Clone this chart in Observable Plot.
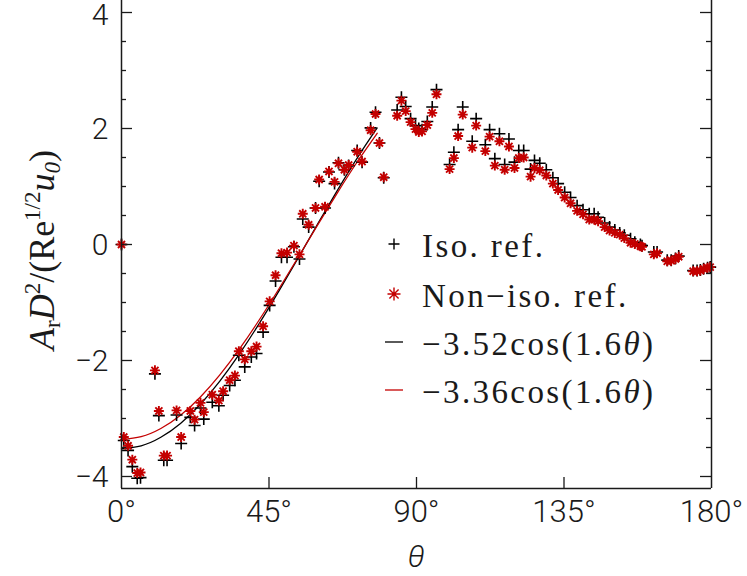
<!DOCTYPE html>
<html><head><meta charset="utf-8">
<script src="https://cdn.jsdelivr.net/npm/d3@7"></script>
<script src="https://cdn.jsdelivr.net/npm/@observablehq/plot@0.6"></script>
<style>
body{margin:0;background:#fff;}
</style></head><body><div id="chart"></div>
<script>
// ---- data ----
const theta = [0, 0.7, 2.0, 3.3, 4.8, 5.8, 10.2, 11.4, 12.9, 13.9,
  16.8, 18.2, 21.0, 22.3, 24.1, 25.1, 27.7, 29.7, 31.0, 33.0,
  34.6, 35.8, 37.6, 39.6, 41.2, 43.2, 45.2, 47.0, 48.8, 50.5,
  52.6, 54.3, 55.3, 57.1, 59.2, 60.3, 62.1, 63.3, 65.0, 66.2,
  68.0, 69.3, 71.9, 73.4, 76.0, 77.5, 78.7, 80.0, 84.1, 85.4,
  86.7, 88.2, 89.7, 90.7, 91.7, 93.3, 94.8, 96.1, 100.1, 101.4,
  102.7, 104.1, 107.0, 108.2, 111.0, 112.3, 113.9, 115.3, 116.9, 118.2,
  119.9, 121.2, 122.7, 124.8, 126.0, 127.6, 129.6, 131.6, 133.2, 135.2,
  137.0, 139.0, 140.8, 142.7, 144.2, 145.4, 147.4, 148.9, 150.5, 152.0,
  153.4, 155.3, 156.6, 158.3, 158.8, 162.4, 163.4, 166.5, 167.7, 169.0,
  170.0, 174.4, 175.6, 176.6, 177.6, 178.8, 179.6];
const nonIsoRef = [0, -3.32, -3.47, -3.71, -3.94, -3.93, -2.17, -2.87, -3.64, -3.64,
  -2.86, -3.32, -2.87, -3.02, -2.73, -2.89, -2.59, -2.69, -2.53, -2.34,
  -2.26, -1.84, -1.98, -1.84, -1.76, -1.41, -0.98, -0.53, -0.15, -0.14,
  -0.02, -0.17, 0.53, 0.34, 0.63, 1.12, 0.65, 1.26, 1.08, 1.40,
  1.29, 1.37, 1.60, 1.43, 1.97, 2.25, 1.75, 1.16, 2.22, 2.48,
  2.30, 2.11, 1.99, 1.94, 1.95, 2.06, 2.27, 2.59, 1.30, 1.49,
  1.87, 2.24, 1.67, 2.05, 1.61, 1.86, 1.36, 1.78, 1.29, 1.69,
  1.32, 1.49, 1.50, 1.17, 1.32, 1.28, 1.19, 1.05, 0.94, 0.81,
  0.71, 0.58, 0.52, 0.43, 0.43, 0.40, 0.30, 0.24, 0.20, 0.17,
  0.11, 0.03, 0.01, -0.03, -0.04, -0.17, -0.15, -0.29, -0.28, -0.25,
  -0.21, -0.46, -0.46, -0.45, -0.42, -0.40, -0.39];
const isoRef = [0, -3.38, -3.55, -3.83, -4.03, -4.02, -2.23, -2.95, -3.72, -3.72,
  -2.94, -3.43, -2.98, -3.12, -2.82, -3.01, -2.72, -2.78, -2.60, -2.43,
  -2.34, -1.91, -2.11, -1.94, -1.88, -1.51, -1.05, -0.63, -0.22, -0.22,
  -0.04, -0.25, 0.44, 0.30, 0.63, 1.09, 0.63, 1.25, 1.05, 1.41,
  1.29, 1.36, 1.62, 1.42, 2.01, 2.28, 1.75, 1.15, 2.32, 2.54,
  2.38, 2.17, 2.05, 2.00, 1.98, 2.12, 2.37, 2.67, 1.38, 1.59,
  1.98, 2.37, 1.78, 2.17, 1.72, 1.98, 1.48, 1.91, 1.38, 1.82,
  1.42, 1.62, 1.62, 1.30, 1.45, 1.40, 1.29, 1.15, 1.05, 0.90,
  0.81, 0.67, 0.60, 0.53, 0.53, 0.47, 0.37, 0.30, 0.25, 0.20,
  0.16, 0.10, 0.04, 0.00, -0.02, -0.13, -0.13, -0.27, -0.27, -0.24,
  -0.20, -0.45, -0.45, -0.44, -0.42, -0.40, -0.39];
// fitted curves, sampled as drawn
const fitTheta = [0, 6, 12, 18, 24, 30, 36, 42, 48, 54, 60, 66, 72, 78];
const fitIso = [-3.520, -3.471, -3.324, -3.085, -2.759, -2.355, -1.886, -1.364, -0.804, -0.221, 0.368, 0.947, 1.499, 2.009];
const fitNonIso = [-3.360, -3.313, -3.173, -2.944, -2.633, -2.248, -1.800, -1.302, -0.767, -0.211, 0.351, 0.904, 1.431, 1.918];
// axes
const xTicks = [0, 45, 90, 135, 180];
const xTickLabels = ["0°", "45°", "90°", "135°", "180°"];
const xInnerTicks = [45, 90, 135];
const yTicks = [-4, -2, 0, 2, 4];
const yTickLabels = ["−4", "−2", "0", "2", "4"];
const yMinorTicks = [-3.5, -3, -2.5, -1.5, -1, -0.5, 0.5, 1, 1.5, 2.5, 3, 3.5];
const legendLabels = ["Iso. ref.", "Non−iso. ref.", "−3.52cos(1.6", "−3.36cos(1.6"];

const RED = "#c40000";
const pts = theta.map((t, i) => ({theta: t, iso: isoRef[i], non: nonIsoRef[i]}));
const fit = fitTheta.map((t, i) => ({theta: t, iso: fitIso[i], non: fitNonIso[i]}));
const yLab = yTicks.map((v, i) => ({v, label: yTickLabels[i]}));

const plusSymbol = {draw(ctx, size) {const r = Math.sqrt(size / Math.PI);
  ctx.moveTo(-r, 0); ctx.lineTo(r, 0); ctx.moveTo(0, -r); ctx.lineTo(0, r);}};
const starSymbol = {draw(ctx, size) {const r = Math.sqrt(size / Math.PI); const d = r * Math.SQRT1_2;
  ctx.moveTo(-r, 0); ctx.lineTo(r, 0); ctx.moveTo(0, -r); ctx.lineTo(0, r);
  ctx.moveTo(-d, -d); ctx.lineTo(d, d); ctx.moveTo(-d, d); ctx.lineTo(d, -d);}};

const W = 747, H = 576, ML = 121, MR = 36, MT = 0, MB = 88;
const PW = W - ML - MR, PH = H - MT - MB;
const tickFont = "Roboto, 'Liberation Sans', sans-serif";
const AX = "#1a1a1a";

const chart = Plot.plot({
  width: W, height: H, marginLeft: ML, marginRight: MR, marginTop: MT, marginBottom: MB,
  x: {domain: [0, 180], axis: null},
  y: {domain: [-4.207, 4.207], axis: null},
  style: {background: "white", overflow: "visible"},
  marks: [
    Plot.line(fit, {x: "theta", y: "iso", curve: "natural", stroke: "black", strokeWidth: 1.3}),
    Plot.line(fit, {x: "theta", y: "non", curve: "natural", stroke: RED, strokeWidth: 1.3}),
    Plot.dot(pts, {x: "theta", y: "iso", r: 6, symbol: plusSymbol, fill: "none", stroke: "black", strokeWidth: 1.6}),
    Plot.dot(pts, {x: "theta", y: "non", r: 5, symbol: starSymbol, fill: "none", stroke: RED, strokeWidth: 1.9}),
    // frame
    Plot.ruleX([0, 180], {stroke: AX, strokeWidth: 1.5}),
    Plot.ruleY([-4.207], {stroke: AX, strokeWidth: 1.5}),
    // ticks (inward)
    Plot.tickY(yTicks, {y: d => d, insetRight: PW - 11, stroke: AX, strokeWidth: 1.3}),
    Plot.tickY(yTicks, {y: d => d, insetLeft: PW - 11, stroke: AX, strokeWidth: 1.3}),
    Plot.tickY(yMinorTicks, {y: d => d, insetRight: PW - 5, stroke: AX, strokeWidth: 1.3}),
    Plot.tickY(yMinorTicks, {y: d => d, insetLeft: PW - 5, stroke: AX, strokeWidth: 1.3}),
    Plot.tickX(xInnerTicks, {x: d => d, insetTop: PH - 11, stroke: AX, strokeWidth: 1.3}),
    // tick labels
    Plot.text(xTicks, {x: d => d, text: (d, i) => xTickLabels[i], frameAnchor: "bottom", dy: 33,
      fontSize: 31, fontFamily: tickFont, fontWeight: 300, fill: AX}),
    Plot.text(yLab.filter(d => d.v < 4), {y: "v", text: "label", frameAnchor: "left", dx: -13, dy: 1, textAnchor: "end",
      fontSize: 30, fontFamily: tickFont, fontWeight: 300, fill: AX}),
    Plot.text(yLab.filter(d => d.v >= 4), {y: "v", text: "label", frameAnchor: "left", dx: -13, dy: 3, textAnchor: "end",
      fontSize: 30, fontFamily: tickFont, fontWeight: 300, fill: AX})
  ]
});
document.getElementById("chart").appendChild(chart);

const svg = d3.select(chart);
const serif = "'Liberation Serif', 'DejaVu Serif', serif";

// x title
svg.append("text").attr("x", 416).attr("y", 567).attr("text-anchor", "middle")
  .attr("font-family", tickFont).attr("font-weight", 300).attr("font-style", "italic")
  .attr("font-size", 31).attr("fill", AX).text("θ");

// y title
const yt = svg.append("text").attr("transform", "translate(54,250) rotate(-90)")
  .attr("text-anchor", "middle").attr("font-family", serif).attr("font-size", 36).attr("fill", AX);
yt.append("tspan").attr("font-style", "italic").text("A");
yt.append("tspan").attr("font-size", 23).attr("dy", 6).text("r");
yt.append("tspan").attr("font-style", "italic").attr("dy", -6).text("D");
yt.append("tspan").attr("font-size", 23).attr("dy", -14).text("2");
yt.append("tspan").attr("dy", 14).text("/(Re");
yt.append("tspan").attr("font-size", 23).attr("dy", -14).text("1/2");
yt.append("tspan").attr("font-style", "italic").attr("dy", 14).text("u");
yt.append("tspan").attr("font-size", 23).attr("font-style", "italic").attr("dy", 6).text("0");
yt.append("tspan").attr("dy", -6).text(")");

// legend
const lg = svg.append("g").attr("text-anchor", "start");
const sym = d3.symbol();
lg.append("path").attr("transform", "translate(394,244)")
  .attr("d", sym.type(plusSymbol).size(Math.PI * 5.5 * 5.5)()).attr("stroke", "black").attr("stroke-width", 1.4).attr("fill", "none");
lg.append("path").attr("transform", "translate(394,294)")
  .attr("d", sym.type(starSymbol).size(Math.PI * 6.5 * 6.5)()).attr("stroke", RED).attr("stroke-width", 1.4).attr("fill", "none");
lg.append("line").attr("x1", 385).attr("x2", 403).attr("y1", 342).attr("y2", 342).attr("stroke", "black").attr("stroke-width", 1.3);
lg.append("line").attr("x1", 385).attr("x2", 403).attr("y1", 390).attr("y2", 390).attr("stroke", RED).attr("stroke-width", 1.3);
const baselines = [256.5, 306.5, 355, 403];
legendLabels.forEach((s, i) => {
  const t = lg.append("text").attr("x", 422).attr("y", baselines[i]).attr("text-anchor", "start")
    .attr("font-family", serif).attr("font-size", 33).attr("letter-spacing", 2.4).attr("fill", AX);
  t.append("tspan").text(s);
  if (i >= 2) {
    t.append("tspan").attr("font-style", "italic").text("θ");
    t.append("tspan").text(")");
  }
});
</script>
</body></html>
